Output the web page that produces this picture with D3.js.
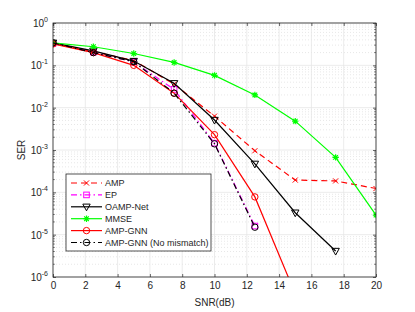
<!DOCTYPE html>
<html>
<head>
<meta charset="utf-8">
<script src="https://cdn.jsdelivr.net/npm/d3@7"></script>
<style>
  body { margin: 0; background: #fff; }
  svg { display: block; font-family: "Liberation Sans", Arial, sans-serif; }
</style>
</head>
<body>
<div id="viz"></div>
<script>
const snr = [0, 2.5, 5, 7.5, 10, 12.5, 15, 17.5, 20];
const amp = [0.33, 0.21, 0.13, 0.036, 0.0063, 9.6e-4, 1.95e-4, 1.86e-4, 1.23e-4];
const ep = [0.33, 0.205, 0.12, 0.027, 0.00145, 1.6e-5];
const oampNet = [0.34, 0.22, 0.126, 0.0376, 0.0051, 4.7e-4, 3.3e-5, 4.1e-6];
const mmse = [0.34, 0.275, 0.19, 0.117, 0.058, 0.02, 0.0048, 6.7e-4, 2.9e-5];
const ampGnn = [0.32, 0.2, 0.1, 0.022, 0.0023, 7.8e-5, 4e-7];
const ampGnnNoMismatch = [0.34, 0.2, 0.122, 0.022, 0.0014, 1.5e-5];
const xTicks = [0, 2, 4, 6, 8, 10, 12, 14, 16, 18, 20];
const yDecades = [-6, -5, -4, -3, -2, -1, 0];

const canvasWidth = 415;
const canvasHeight = 312;
const margin = { top: 23, right: 39, bottom: 35, left: 53 };
const plotWidth = canvasWidth - margin.left - margin.right;
const plotHeight = canvasHeight - margin.top - margin.bottom;
const axisColor = '#262626';

const series = [
  { name: 'AMP', values: amp, color: '#ff0000', dash: '6,4', marker: 'x' },
  { name: 'EP', values: ep, color: '#ff00ff', dash: '6,3,1.5,3', marker: 'square' },
  { name: 'OAMP-Net', values: oampNet, color: '#000000', dash: null, marker: 'triangle' },
  { name: 'MMSE', values: mmse, color: '#00ff00', dash: null, marker: 'star' },
  { name: 'AMP-GNN', values: ampGnn, color: '#ff0000', dash: null, marker: 'circle' },
  { name: 'AMP-GNN (No mismatch)', values: ampGnnNoMismatch, color: '#000000', dash: '6,3,1.5,3', marker: 'circle' }
];

const x = d3.scaleLinear().domain([0, 20]).range([0, plotWidth]);
const y = d3.scaleLog().domain([1e-6, 1]).range([plotHeight, 0]);

const svg = d3.select('#viz').append('svg')
  .attr('width', canvasWidth)
  .attr('height', canvasHeight);

svg.append('defs').append('clipPath').attr('id', 'clip')
  .append('rect').attr('width', plotWidth).attr('height', plotHeight);

const g = svg.append('g').attr('transform', `translate(${margin.left},${margin.top})`);

// minor grid (dotted, horizontal only)
const minor = y.ticks().filter((v) => Math.abs(Math.log10(v) - Math.round(Math.log10(v))) > 1e-6);
g.append('g').selectAll('line').data(minor).enter().append('line')
  .attr('x1', 0).attr('x2', plotWidth)
  .attr('y1', (d) => y(d)).attr('y2', (d) => y(d))
  .attr('stroke', '#d6d6d6').attr('stroke-width', 0.6).attr('stroke-dasharray', '1,2');

// major grid
g.append('g').selectAll('line').data(yDecades).enter().append('line')
  .attr('x1', 0).attr('x2', plotWidth)
  .attr('y1', (d) => y(Math.pow(10, d))).attr('y2', (d) => y(Math.pow(10, d)))
  .attr('stroke', '#e6e6e6').attr('stroke-width', 0.8);
g.append('g').selectAll('line').data(xTicks).enter().append('line')
  .attr('x1', (d) => x(d)).attr('x2', (d) => x(d))
  .attr('y1', 0).attr('y2', plotHeight)
  .attr('stroke', '#e6e6e6').attr('stroke-width', 0.8);

// series
const line = d3.line().x((d) => x(d[0])).y((d) => y(d[1]));
const plot = g.append('g').attr('clip-path', 'url(#clip)');

function drawMarker(sel, type, color) {
  const s = 3.2;
  if (type === 'circle') {
    sel.append('circle').attr('r', s).attr('fill', 'none').attr('stroke', color).attr('stroke-width', 1);
  } else if (type === 'square') {
    sel.append('rect').attr('x', -s + 0.4).attr('y', -s + 0.4).attr('width', 2 * s - 0.8).attr('height', 2 * s - 0.8)
      .attr('fill', 'none').attr('stroke', color).attr('stroke-width', 1);
  } else if (type === 'triangle') {
    sel.append('path').attr('d', `M${-s - 0.5},${-s + 0.5}L${s + 0.5},${-s + 0.5}L0,${s + 0.8}Z`)
      .attr('fill', 'none').attr('stroke', color).attr('stroke-width', 1);
  } else if (type === 'x') {
    sel.append('path').attr('d', `M${-s * 0.8},${-s * 0.8}L${s * 0.8},${s * 0.8}M${-s * 0.8},${s * 0.8}L${s * 0.8},${-s * 0.8}`)
      .attr('stroke', color).attr('stroke-width', 1);
  } else if (type === 'star') {
    sel.append('path').attr('d', `M${-s},0L${s},0M0,${-s}L0,${s}M${-s * 0.72},${-s * 0.72}L${s * 0.72},${s * 0.72}M${-s * 0.72},${s * 0.72}L${s * 0.72},${-s * 0.72}`)
      .attr('stroke', color).attr('stroke-width', 1.2);
  }
}

series.forEach((s) => {
  const pts = s.values.map((v, i) => [snr[i], v]);
  plot.append('path').datum(pts)
    .attr('d', line)
    .attr('fill', 'none')
    .attr('stroke', s.color)
    .attr('stroke-width', 1.2)
    .attr('stroke-dasharray', s.dash);
  plot.append('g').selectAll('g').data(pts).enter().append('g')
    .attr('transform', (d) => `translate(${x(d[0])},${y(d[1])})`)
    .each(function () { drawMarker(d3.select(this), s.marker, s.color); });
});

// axes
const xAxis = g.append('g').attr('transform', `translate(0,${plotHeight})`)
  .call(d3.axisBottom(x).tickValues(xTicks).tickSize(-3).tickPadding(5).tickSizeOuter(0));
g.append('g')
  .call(d3.axisTop(x).tickValues(xTicks).tickSize(-3).tickFormat('').tickSizeOuter(0));
g.append('g')
  .call(d3.axisLeft(y).tickValues(yDecades.map((d) => Math.pow(10, d))).tickSize(-3).tickSizeOuter(0).tickFormat(''));
g.append('g').attr('transform', `translate(${plotWidth},0)`)
  .call(d3.axisRight(y).tickValues(yDecades.map((d) => Math.pow(10, d))).tickSize(-3).tickFormat('').tickSizeOuter(0));
// minor ticks
[0, plotWidth].forEach((px) => {
  g.append('g').selectAll('line').data(minor).enter().append('line')
    .attr('x1', px).attr('x2', px === 0 ? 1.8 : px - 1.8)
    .attr('y1', (d) => y(d)).attr('y2', (d) => y(d))
    .attr('stroke', axisColor).attr('stroke-width', 0.6);
});

g.selectAll('.domain').remove();
g.selectAll('.tick line').attr('stroke', axisColor).attr('stroke-width', 0.7);
xAxis.selectAll('text').attr('fill', axisColor).style('font-size', '10px').style('font-family', '"Liberation Sans", Arial, sans-serif');

// y tick labels 10^n
g.append('g').selectAll('text').data(yDecades).enter().append('text')
  .attr('x', -5)
  .attr('y', (d) => y(Math.pow(10, d)) + 4)
  .attr('text-anchor', 'end')
  .attr('fill', axisColor)
  .style('font-size', '10px')
  .each(function (d) {
    const t = d3.select(this);
    t.append('tspan').text('10');
    t.append('tspan').attr('dy', -5).style('font-size', '7px').text(d);
  });

// box
g.append('rect').attr('width', plotWidth).attr('height', plotHeight)
  .attr('fill', 'none').attr('stroke', axisColor).attr('stroke-width', 0.8);

// axis labels
svg.append('text')
  .attr('x', margin.left + plotWidth / 2).attr('y', 306)
  .attr('text-anchor', 'middle').attr('fill', axisColor)
  .style('font-size', '10px').text('SNR(dB)');
svg.append('text')
  .attr('transform', `translate(25,${margin.top + plotHeight / 2}) rotate(-90)`)
  .attr('text-anchor', 'middle').attr('fill', axisColor)
  .style('font-size', '10px').text('SER');

// legend
const legendX = 66;
const legendY = 174;
const legendRow = 11.9;
const legend = svg.append('g').attr('transform', `translate(${legendX},${legendY})`);
legend.append('rect').attr('width', 145).attr('height', 77)
  .attr('fill', '#fff').attr('stroke', axisColor).attr('stroke-width', 0.8);
const items = legend.selectAll('g.item').data(series).enter().append('g')
  .attr('class', 'item')
  .attr('transform', (d, i) => `translate(0,${9 + i * legendRow})`);
items.append('line')
  .attr('x1', 5).attr('x2', 36)
  .attr('stroke', (d) => d.color).attr('stroke-width', 1.2)
  .attr('stroke-dasharray', (d) => d.dash);
items.append('g').attr('transform', 'translate(20.5,0)')
  .each(function (d) { drawMarker(d3.select(this), d.marker, d.color); });
items.append('text')
  .attr('x', 39).attr('y', 3.3)
  .attr('fill', axisColor)
  .style('font-size', '9px')
  .text((d) => d.name);
</script>
</body>
</html>
